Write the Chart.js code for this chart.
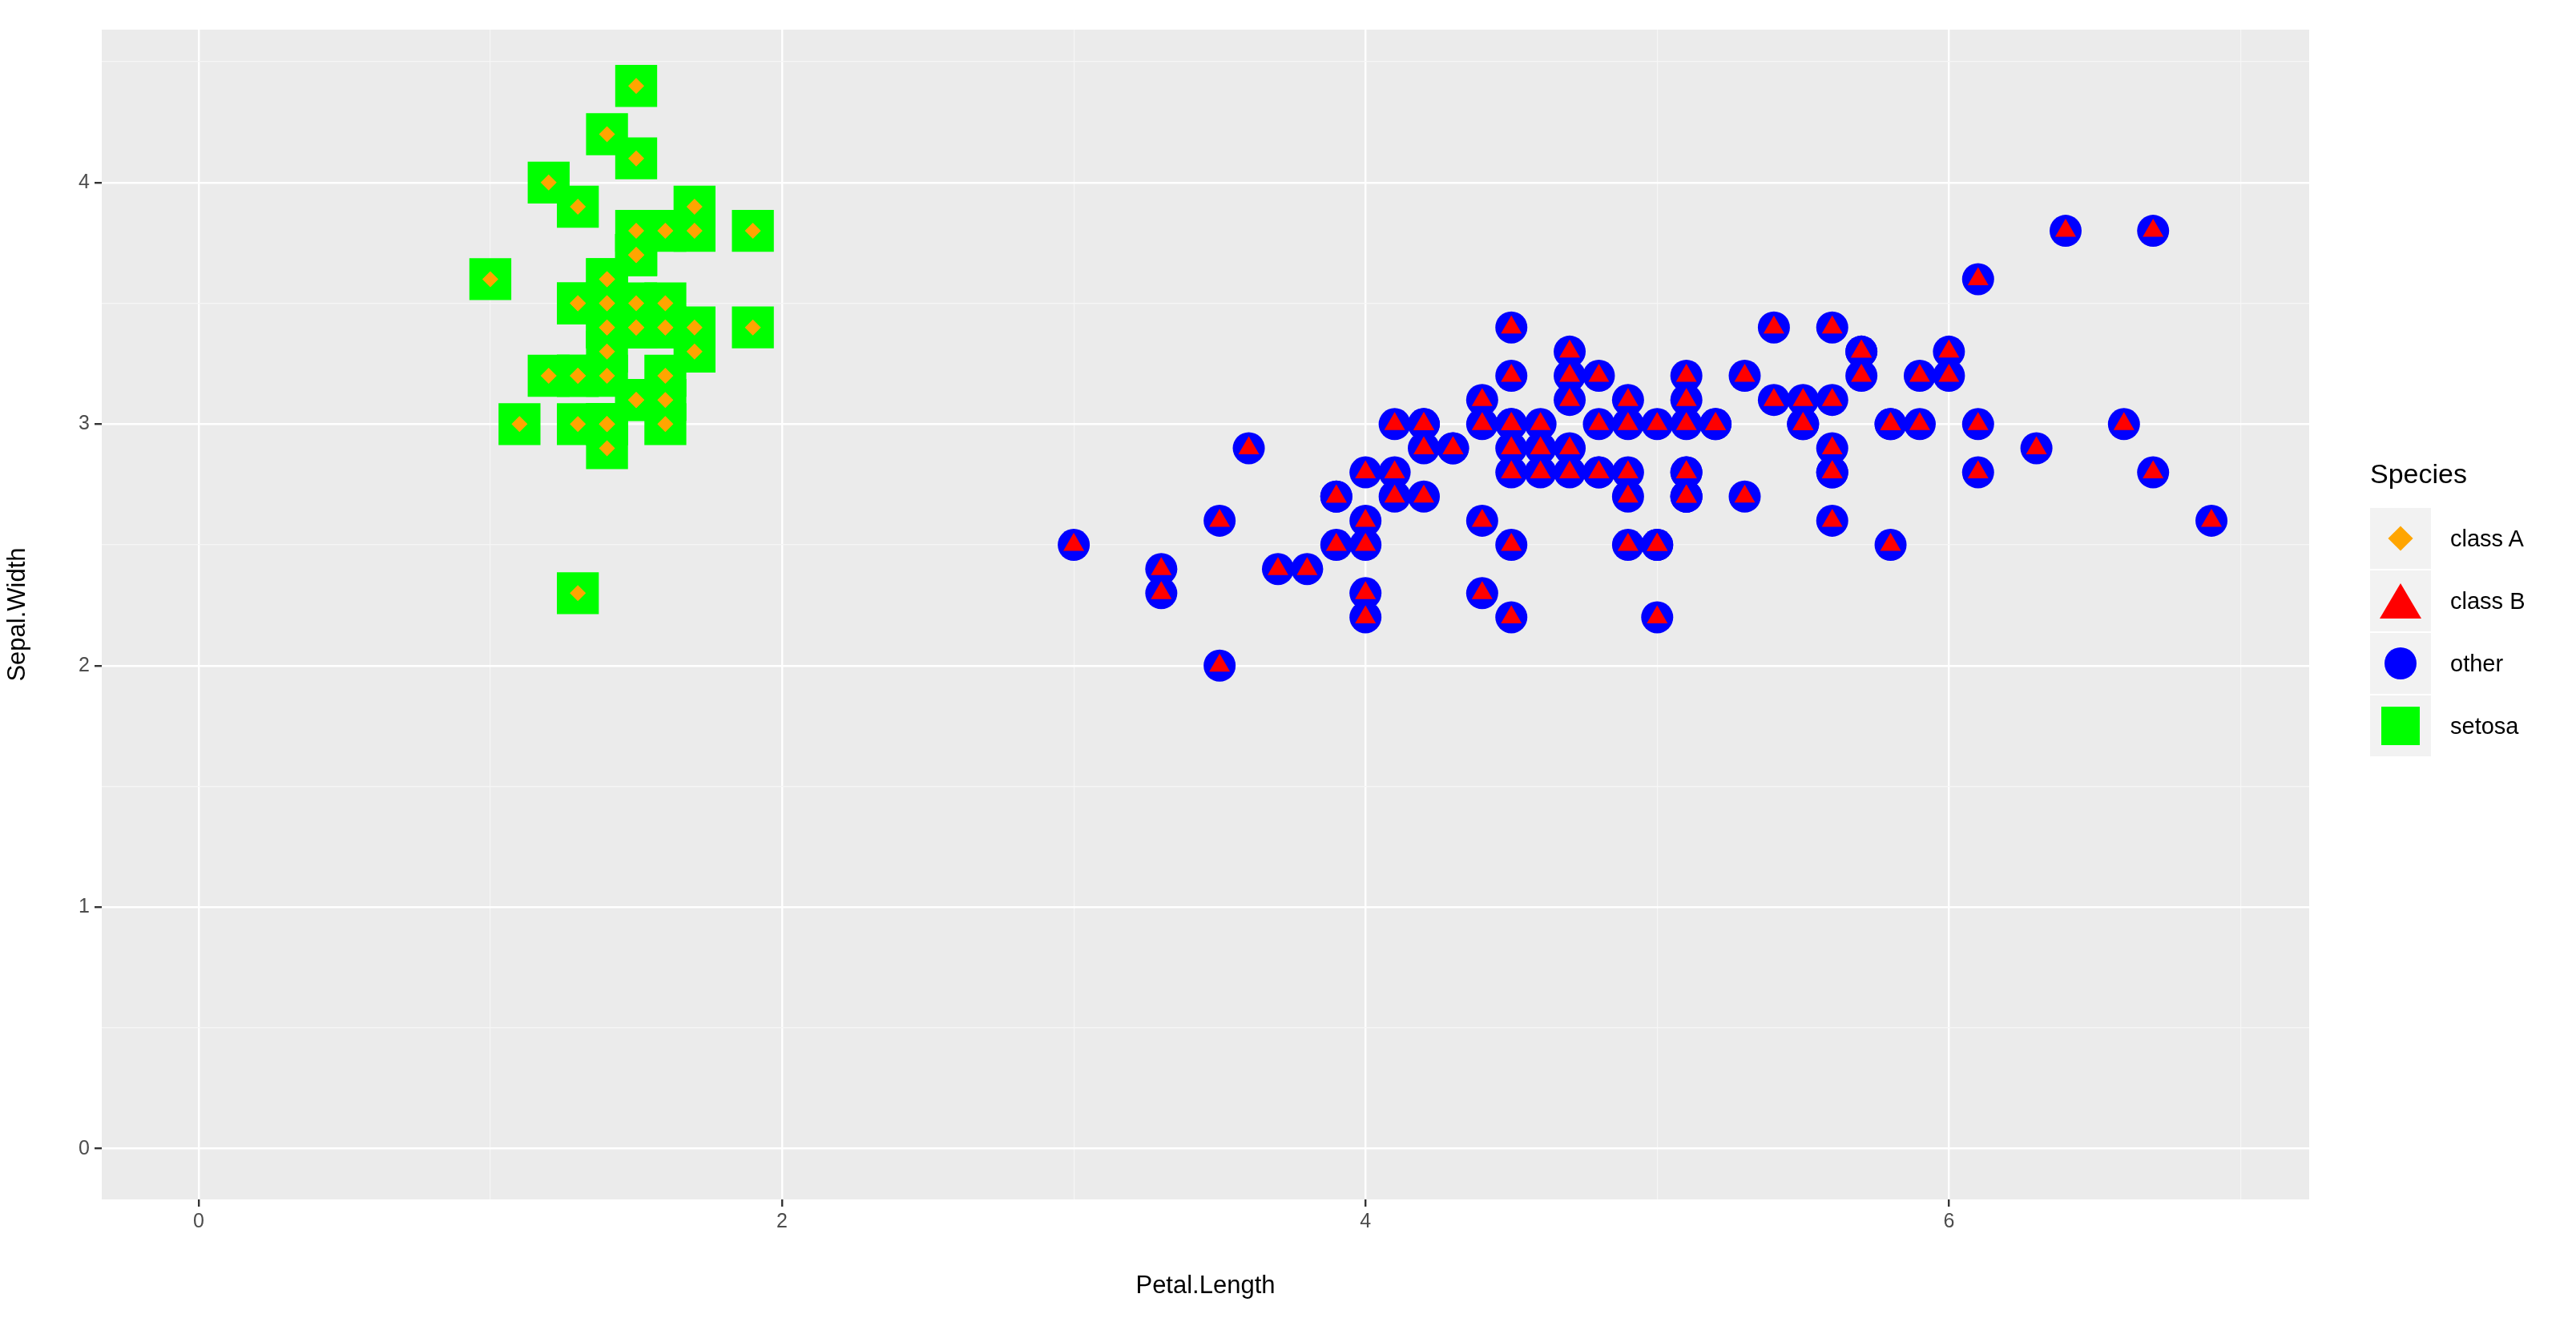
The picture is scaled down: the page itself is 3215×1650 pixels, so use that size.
<!DOCTYPE html>
<html>
<head>
<meta charset="utf-8">
<script src="https://cdn.jsdelivr.net/npm/chart.js@4.4.0/dist/chart.umd.min.js"></script>
<style>
  body { margin: 0; background: #fff; font-family: "Liberation Sans", Arial, sans-serif; }
  #wrap { position: relative; width: 3215px; height: 1650px; }
  #legend { position: absolute; left: 2958px; top: 572px; color: #000; }
  #legend .title { font-size: 34px; margin-bottom: 22px; }
  .item { display: flex; align-items: center; height: 78px; }
  .key { width: 76px; height: 76px; background: #F2F2F2; position: relative; margin-right: 24px; }
  .item span { font-size: 29px; }
  .sym { position: absolute; left: 50%; top: 50%; transform: translate(-50%, -50%); }
</style>
</head>
<body>
<div id="wrap">
  <canvas id="c" width="3215" height="1650"></canvas>
  <div id="legend">
    <div class="title">Species</div>
    <div class="item"><div class="key"><div class="sym" style="width:22px;height:22px;background:#FFA500;transform:translate(-50%,-50%) rotate(45deg)"></div></div><span>class A</span></div>
    <div class="item"><div class="key"><div class="sym" style="width:0;height:0;border-left:26px solid transparent;border-right:26px solid transparent;border-bottom:44px solid #FF0000;"></div></div><span>class B</span></div>
    <div class="item"><div class="key"><div class="sym" style="width:40px;height:40px;border-radius:50%;background:#0000FF"></div></div><span>other</span></div>
    <div class="item"><div class="key"><div class="sym" style="width:48px;height:48px;background:#00FF00"></div></div><span>setosa</span></div>
  </div>
</div>
<script>
// iris: setosa petal length / sepal width
const setosaPetalLength = [1.4,1.4,1.3,1.5,1.4,1.7,1.4,1.5,1.4,1.5,1.5,1.6,1.4,1.1,1.2,1.5,1.3,1.4,1.7,1.5,1.7,1.5,1.0,1.7,1.9,1.6,1.6,1.5,1.4,1.6,1.6,1.5,1.5,1.4,1.5,1.2,1.3,1.4,1.3,1.5,1.3,1.3,1.3,1.6,1.9,1.4,1.6,1.4,1.5,1.4];
const setosaSepalWidth = [3.5,3.0,3.2,3.1,3.6,3.9,3.4,3.4,2.9,3.1,3.7,3.4,3.0,3.0,4.0,4.4,3.9,3.5,3.8,3.8,3.4,3.7,3.6,3.3,3.4,3.0,3.4,3.5,3.4,3.2,3.1,3.4,4.1,4.2,3.1,3.2,3.5,3.6,3.0,3.4,3.5,2.3,3.2,3.5,3.8,3.0,3.8,3.2,3.7,3.3];

// versicolor + virginica ("other")
const otherPetalLength = [4.7,4.5,4.9,4.0,4.6,4.5,4.7,3.3,4.6,3.9,3.5,4.2,4.0,4.7,3.6,4.4,4.5,4.1,4.5,3.9,4.8,4.0,4.9,4.7,4.3,4.4,4.8,5.0,4.5,3.5,3.8,3.7,3.9,5.1,4.5,4.5,4.7,4.4,4.1,4.0,4.4,4.6,4.0,3.3,4.2,4.2,4.2,4.3,3.0,4.1,
  6.0,5.1,5.9,5.6,5.8,6.6,4.5,6.3,5.8,6.1,5.1,5.3,5.5,5.0,5.1,5.3,5.5,6.7,6.9,5.0,5.7,4.9,6.7,4.9,5.7,6.0,4.8,4.9,5.6,5.8,6.1,6.4,5.6,5.1,5.6,6.1,5.6,5.5,4.8,5.4,5.6,5.1,5.1,5.9,5.7,5.2,5.0,5.2,5.4,5.1];
const otherSepalWidth = [3.2,3.2,3.1,2.3,2.8,2.8,3.3,2.4,2.9,2.7,2.0,3.0,2.2,2.9,2.9,3.1,3.0,2.7,2.2,2.5,3.2,2.8,2.5,2.8,2.9,3.0,2.8,3.0,2.9,2.6,2.4,2.4,2.7,2.7,3.0,3.4,3.1,2.3,3.0,2.5,2.6,3.0,2.6,2.3,2.7,3.0,2.9,2.9,2.5,2.8,
  3.3,2.7,3.0,2.9,3.0,3.0,2.5,2.9,2.5,3.6,3.2,2.7,3.0,2.5,2.8,3.2,3.0,3.8,2.6,2.2,3.2,2.8,2.8,2.7,3.3,3.2,2.8,3.0,2.8,3.0,2.8,3.8,2.8,2.8,2.6,3.0,3.4,3.1,3.0,3.1,3.1,3.1,2.7,3.2,3.3,3.0,2.5,3.0,3.4,3.0];

const xTicks = [0,1,2,3,4,5,6,7];
const yTicks = [0,0.5,1,1.5,2,2.5,3,3.5,4,4.5];

const pts = (xs, ys) => xs.map((x, i) => ({ x: x, y: ys[i] }));

const panelBg = {
  id: 'panelBg',
  beforeDraw(chart) {
    const a = chart.chartArea, ctx = chart.ctx;
    ctx.save();
    ctx.fillStyle = '#EBEBEB';
    ctx.fillRect(a.left, a.top, a.right - a.left, a.bottom - a.top);
    ctx.restore();
  }
};

const isMajorX = v => v % 2 === 0;
const isMajorY = v => Number.isInteger(v);

// Chart.js paints the first dataset last, so overlays come first
new Chart(document.getElementById('c'), {
  type: 'scatter',
  data: {
    datasets: [
      { label: 'class A', data: pts(setosaPetalLength, setosaSepalWidth), pointStyle: 'rectRot', pointRadius: 10, backgroundColor: '#FFA500', borderWidth: 0 },
      { label: 'class B', data: pts(otherPetalLength, otherSepalWidth), pointStyle: 'triangle', pointRadius: 15, backgroundColor: '#FF0000', borderWidth: 0 },
      { label: 'setosa', data: pts(setosaPetalLength, setosaSepalWidth), pointStyle: 'rect', pointRadius: 37, backgroundColor: '#00FF00', borderWidth: 0 },
      { label: 'other', data: pts(otherPetalLength, otherSepalWidth), pointStyle: 'circle', pointRadius: 20, backgroundColor: '#0000FF', borderWidth: 0 }
    ]
  },
  options: {
    responsive: false,
    animation: false,
    layout: { padding: { top: 5, right: 333, left: 0, bottom: 22 } },
    plugins: { legend: { display: false }, tooltip: { enabled: false } },
    scales: {
      x: {
        min: -0.332, max: 7.235,
        afterBuildTicks: s => { s.ticks = xTicks.map(v => ({ value: v })); },
        afterFit: s => { s.height = 131; },
        border: { display: false },
        grid: {
          color: c => isMajorX(c.tick.value) ? '#FFFFFF' : '#F6F6F6',
          lineWidth: c => isMajorX(c.tick.value) ? 2.4 : 1.2,
          tickColor: c => isMajorX(c.tick.value) ? '#333333' : 'rgba(0,0,0,0)',
          tickLength: 9
        },
        ticks: {
          color: '#4D4D4D', font: { size: 25, family: 'Liberation Sans' }, padding: 4,
          callback: v => isMajorX(v) ? String(v) : ''
        },
        title: { display: true, text: 'Petal.Length', color: '#000', font: { size: 31, family: 'Liberation Sans' }, padding: { top: 6 } }
      },
      y: {
        min: -0.21, max: 4.633,
        afterBuildTicks: s => { s.ticks = yTicks.map(v => ({ value: v })); },
        afterFit: s => { s.width = 127; },
        border: { display: false },
        grid: {
          color: c => isMajorY(c.tick.value) ? '#FFFFFF' : '#F6F6F6',
          lineWidth: c => isMajorY(c.tick.value) ? 2.4 : 1.2,
          tickColor: c => isMajorY(c.tick.value) ? '#333333' : 'rgba(0,0,0,0)',
          tickLength: 9
        },
        ticks: {
          color: '#4D4D4D', font: { size: 25, family: 'Liberation Sans' }, padding: 6,
          callback: v => isMajorY(v) ? String(v) : ''
        },
        title: { display: true, text: 'Sepal.Width', color: '#000', font: { size: 31, family: 'Liberation Sans' }, padding: { bottom: 10 } }
      }
    }
  },
  plugins: [panelBg]
});
</script>
</body>
</html>
